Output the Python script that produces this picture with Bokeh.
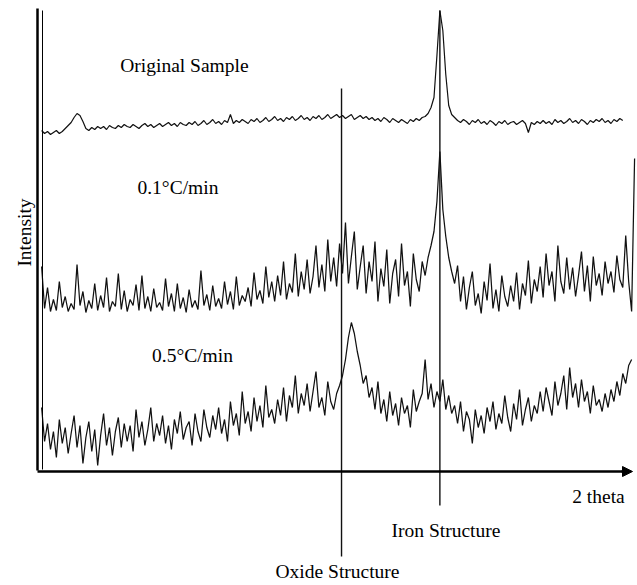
import math
import numpy as np
from bokeh.plotting import figure
from bokeh.models import (Range1d, LinearAxis, FixedTicker, SingleIntervalTicker,
                          Label, Arrow, NormalHead, Grid)
from bokeh.embed import file_html
from bokeh.resources import INLINE

# ---- data (arbitrary units) ----
two_theta = np.round(0.7 + 0.5 * np.arange(202), 2)   # scan positions

original = [
    341, 338, 340, 337, 339, 341, 338, 340, 343, 346,
    349, 354, 358, 356, 350, 343, 341, 344, 342, 345,
    343, 345, 342, 346, 344, 343, 346, 344, 347, 345,
    344, 347, 345, 343, 346, 348, 345, 347, 344, 346,
    348, 345, 347, 349, 346, 348, 345, 349, 347, 346,
    349, 347, 350, 346, 348, 351, 347, 349, 352, 348,
    350, 347, 351, 349, 357, 348, 351, 349, 352, 350,
    348, 352, 350, 353, 349, 351, 354, 350, 352, 355,
    351, 353, 350, 354, 352, 355, 351, 353, 356, 352,
    354, 351, 355, 353, 356, 352, 354, 357, 353, 355,
    357, 354, 356, 353, 355, 357, 352, 354, 356, 353,
    355, 352, 354, 351, 353, 350, 354, 352, 349, 353,
    351, 349, 352, 350, 348, 352, 350, 353, 351, 354,
    355, 358, 364, 374, 416, 461, 441, 397, 366, 357,
    354, 351, 349, 352, 350, 347, 351, 349, 352, 348,
    350, 347, 351, 349, 346, 350, 348, 351, 347, 349,
    350, 347, 349, 351, 348, 339, 349, 347, 350, 348,
    351, 348, 350, 347, 352, 349, 351, 348, 350, 353,
    349, 351, 348, 352, 350, 347, 351, 349, 352, 350,
    353, 349, 351, 348, 352, 350, 353, 351,
]

rate_01 = [
    205, 163, 184, 160, 172, 161, 190, 164, 175, 160,
    168, 162, 207, 166, 180, 159, 171, 163, 188, 161,
    176, 164, 194, 160, 170, 165, 198, 162, 181, 160,
    172, 166, 187, 161, 196, 163, 175, 160, 183, 164,
    169, 161, 193, 165, 178, 160, 188, 163, 174, 159,
    182, 164, 171, 162, 201, 166, 177, 161, 186, 165,
    173, 163, 190, 167, 180, 162, 195, 166, 176, 170,
    184, 165, 199, 172, 181, 168, 205, 174, 190, 170,
    196, 176, 210, 172, 188, 179, 218, 175, 200, 182,
    212, 178, 195, 226, 184, 207, 180, 232, 190, 214,
    185, 228, 198, 249, 188, 215, 240, 182, 205, 226,
    178, 210, 190, 230, 170, 203, 185, 222, 168, 198,
    212, 175, 228, 186, 200, 165, 218, 192, 180, 210,
    196, 214, 226, 240, 270, 320, 262, 235, 214, 200,
    188, 206, 170, 195, 162, 184, 200, 166, 178, 158,
    190, 171, 208, 163, 182, 160, 196, 175, 165, 186,
    170, 199, 162, 188, 176, 211, 168, 192, 180, 205,
    174, 218, 186, 200, 170, 226, 190, 178, 214, 182,
    204, 175, 196, 220, 180, 206, 170, 215, 186, 198,
    176, 210, 188, 200, 179, 216, 192, 184, 236, 190,
    160, 313,
]

rate_05 = [
    64, 30, 48, 22, 40, 14, 52, 28, 44, 18,
    38, 56, 24, 46, 8, 34, 50, 20, 42, 6,
    36, 58, 26, 44, 16, 40, 54, 24, 48, 30,
    46, 20, 62, 34, 50, 26, 42, 64, 30, 48,
    36, 56, 28, 46, 22, 52, 38, 60, 32, 44,
    50, 26, 58, 40, 30, 62, 44, 34, 56, 42,
    64, 38, 52, 30, 70, 46, 58, 36, 80, 48,
    60, 40, 74, 50, 66, 44, 86, 54, 62, 48,
    72, 56, 84, 50, 76, 64, 96, 58, 78, 66,
    88, 60, 80, 100, 64, 74, 56, 90, 70, 62,
    78, 86, 96, 112, 134, 149, 138, 120, 106, 88,
    96, 74, 84, 62, 90, 58, 72, 50, 80, 56,
    68, 46, 74, 58, 66, 44, 82, 60, 70, 78,
    112, 72, 88, 64, 80, 70, 92, 62, 76, 58,
    66, 48, 70, 40, 60, 52, 28, 62, 44, 56,
    38, 64, 50, 70, 42, 58, 48, 76, 54, 40,
    68, 52, 82, 46, 62, 74, 50, 66, 58, 80,
    60, 84, 70, 56, 90, 66, 78, 96, 62, 104,
    74, 88, 64, 92, 70, 80, 58, 86, 66, 72,
    60, 78, 64, 82, 70, 90, 76, 98, 88, 106,
    112,
]

series_labels = ["Original Sample", "0.1°C/min", "0.5°C/min"]
marker_labels = ["Iron Structure", "Oxide Structure"]
marker_positions = [68.2, 51.53]          # 2 theta of the reference lines
x_label = "2 theta"
y_label = "Intensity"

# ---- layout / style ----
FONT = "Liberation Serif"
FS = "19.5px"
INK = "#111111"

p = figure(width=637, height=585, output_backend="svg", toolbar_location=None,
           x_range=Range1d(-6.271, 101.695), y_range=Range1d(-114, 471),
           x_axis_location=None, y_axis_location=None,
           min_border_left=0, min_border_right=0, min_border_top=0, min_border_bottom=0)
p.outline_line_color = None
p.background_fill_color = "white"
p.border_fill_color = "white"
p.renderers = [r for r in p.renderers if not isinstance(r, Grid)]
for g in p.select(type=Grid):
    g.visible = False

# traces
p.line(two_theta[:len(original)], original, line_color=INK, line_width=1.2)
p.line(two_theta[:len(rate_01)], rate_01, line_color=INK, line_width=1.25)
p.line(two_theta[:len(rate_05)], rate_05, line_color=INK, line_width=1.25)

# reference lines
p.segment(x0=marker_positions, y0=[461, 383], x1=marker_positions, y1=[-34, -85],
          line_color=INK, line_width=1.4)

# axes
yaxis = LinearAxis(fixed_location=0, bounds=(1, 463),
                   ticker=SingleIntervalTicker(interval=1000, num_minor_ticks=70),
                   major_tick_in=0, major_tick_out=0,
                   minor_tick_in=5, minor_tick_out=0, minor_tick_line_width=1,
                   minor_tick_line_color="#333333",
                   major_label_standoff=0, axis_line_width=2.5, axis_line_color="black")
p.add_layout(yaxis, "left")

yaxis2 = LinearAxis(fixed_location=0.9, bounds=(2, 461), ticker=FixedTicker(ticks=[]),
                    major_tick_in=0, major_tick_out=0, minor_tick_in=0, minor_tick_out=0,
                    major_label_standoff=0, axis_line_width=1, axis_line_color="black")
p.add_layout(yaxis2, "left")

xaxis = LinearAxis(fixed_location=0, bounds=(0, 99.8), ticker=FixedTicker(ticks=[]),
                   major_tick_in=0, major_tick_out=0, minor_tick_in=0, minor_tick_out=0,
                   major_label_standoff=0, axis_line_width=2.5, axis_line_color="black")
p.add_layout(xaxis, "below")

p.add_layout(Arrow(end=NormalHead(size=10, fill_color="black", line_color="black", line_width=1),
                   x_start=99.0, y_start=0, x_end=100.85, y_end=0,
                   line_color="black", line_width=2.5))

def lab(x, y, t, angle=0.0, baseline="alphabetic"):
    p.add_layout(Label(x=x, y=y, text=t, angle=angle, text_font=FONT, text_font_size=FS,
                       text_color="black", text_align="center",
                       text_baseline=baseline))

lab(24.9, 406, series_labels[0])
lab(23.8, 284, series_labels[1])
lab(26.27, 116, series_labels[2])
lab(69.24, -59, marker_labels[0])
lab(50.85, -100, marker_labels[1])
lab(95.08, -25, x_label)
lab(-2.2, 239, y_label, angle=math.pi / 2, baseline="middle")

open("out.html", "w").write(file_html(p, INLINE))
